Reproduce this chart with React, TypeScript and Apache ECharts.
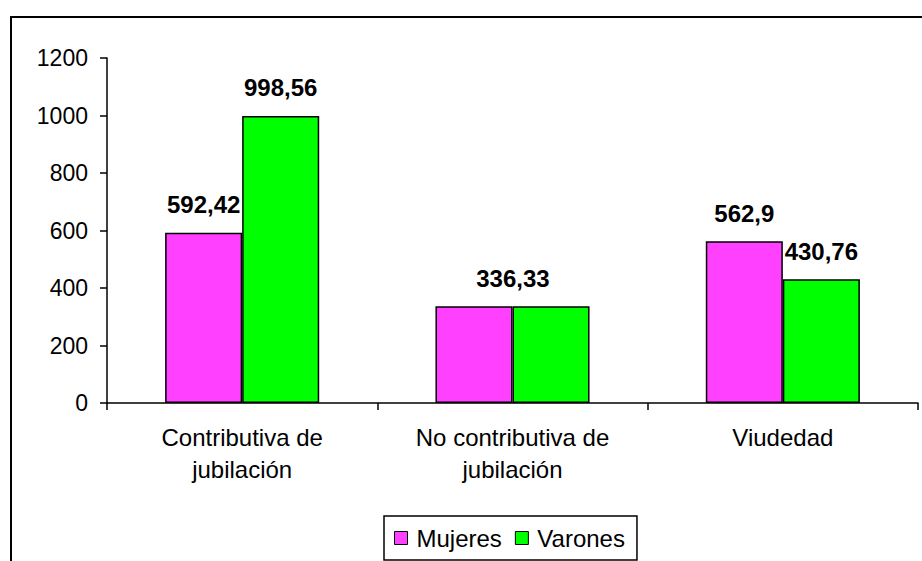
import React, { useEffect, useRef } from "react";
import * as echarts from "echarts";

const categories = ["Contributiva de\njubilación", "No contributiva de\njubilación", "Viudedad"];
const mujeres = [592.42, 336.33, 562.9];
const varones = [998.56, 336.33, 430.76];
const seriesNames = ["Mujeres", "Varones"];
const yTicks = { min: 0, max: 1200, interval: 200 };

const FONT = "'Liberation Sans', Arial, sans-serif";

function fmt(v: number) {
  return String(v).replace(".", ",");
}

export default function App() {
  const ref = useRef<HTMLDivElement>(null);
  useEffect(() => {
    document.body.style.margin = "0";
    const chart = echarts.init(ref.current!, undefined, { renderer: "svg" });
    const labelBase = {
      show: true,
      position: "top",
      distance: 16,
      fontFamily: FONT,
      fontWeight: "bold",
      fontSize: 24,
      color: "#000",
      formatter: (p: any) => fmt(p.value),
    };
    const mujData = mujeres.map((v, i) =>
      mujeres[i] === varones[i] ? { value: v, label: { offset: [39, 0] } } : { value: v }
    );
    const varData = varones.map((v, i) =>
      mujeres[i] === varones[i] ? { value: v, label: { show: false } } : { value: v }
    );
    chart.setOption({
      animation: false,
      backgroundColor: "#fff",
      textStyle: { fontFamily: FONT },
      grid: { left: 107, right: 4, top: 58, bottom: 158, containLabel: false },
      legend: {
        data: seriesNames,
        left: 384,
        top: 516,
        orient: "horizontal",
        icon: "rect",
        itemWidth: 13,
        itemHeight: 13,
        itemGap: 13,
        padding: [10, 12, 10, 10],
        borderColor: "#000",
        borderWidth: 1.5,
        itemStyle: { borderColor: "#000", borderWidth: 1 },
        textStyle: { fontFamily: FONT, fontSize: 24, color: "#000", padding: [0, 0, 0, 4] },
      },
      xAxis: {
        type: "category",
        data: categories,
        axisLine: { lineStyle: { color: "#000", width: 1.5 } },
        axisTick: { show: true, length: 7, lineStyle: { color: "#000", width: 1.5 } },
        axisLabel: {
          fontFamily: FONT,
          fontSize: 24,
          color: "#000",
          margin: 18,
          lineHeight: 32,
          interval: 0,
        },
      },
      yAxis: {
        type: "value",
        min: yTicks.min,
        max: yTicks.max,
        interval: yTicks.interval,
        splitLine: { show: false },
        axisLine: { show: true, lineStyle: { color: "#000", width: 1.5 } },
        axisTick: { show: true, length: 7, lineStyle: { color: "#000", width: 1.5 } },
        axisLabel: {
          fontFamily: FONT,
          fontSize: 23,
          color: "#000",
          margin: 19,
          formatter: (v: number) => String(v),
        },
      },
      series: [
        {
          name: seriesNames[0],
          type: "bar",
          data: mujData,
          barGap: "0%",
          barCategoryGap: "43%",
          itemStyle: { color: "#FF40FF", borderColor: "#000", borderWidth: 1.5 },
          label: labelBase,
        },
        {
          name: seriesNames[1],
          type: "bar",
          data: varData,
          barGap: "0%",
          barCategoryGap: "43%",
          itemStyle: { color: "#00FF00", borderColor: "#000", borderWidth: 1.5 },
          label: labelBase,
        },
      ],
      graphic: [
        {
          type: "rect",
          shape: { x: 11, y: 17, width: 1000, height: 1000 },
          style: { fill: "none", stroke: "#000", lineWidth: 2 },
          silent: true,
        },
      ],
    });
    return () => chart.dispose();
  }, []);
  return <div ref={ref} style={{ width: 922, height: 561 }} />;
}
